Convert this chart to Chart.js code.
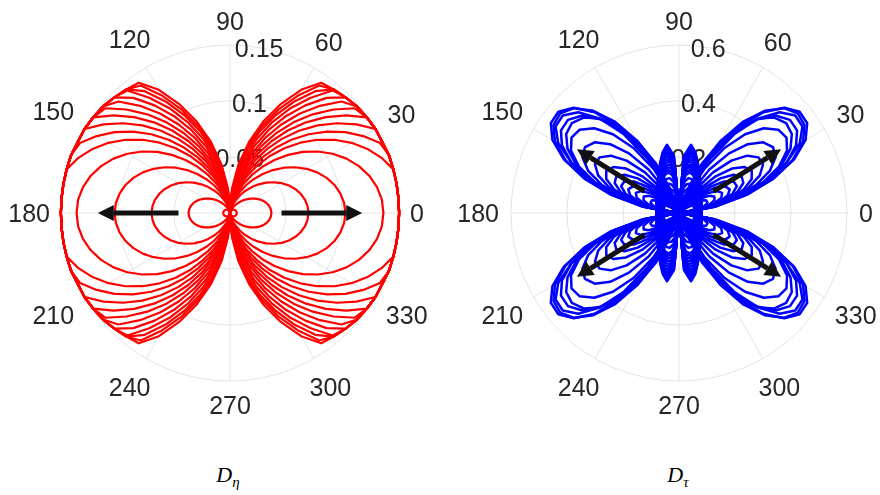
<!DOCTYPE html>
<html>
<head>
<meta charset="utf-8">
<script src="https://cdn.jsdelivr.net/npm/chart.js@4.4.1/dist/chart.umd.min.js"></script>
<style>
  body { margin: 0; background: #fff; }
  #wrap { position: relative; width: 880px; height: 495px; overflow: hidden; }
  canvas { position: absolute; top: 0; }
  #polarEta { left: 0; }
  #polarTau { left: 440px; }
  .caption { position: absolute; top: 462px; transform: translateX(-50%);
             font-family: "Liberation Serif", serif; font-style: italic; font-size: 22px; color: #000; }
  .caption sub { font-size: 15px; }
</style>
</head>
<body>
<div id="wrap">
  <canvas id="polarEta" width="440" height="440"></canvas>
  <canvas id="polarTau" width="440" height="440"></canvas>
  <div class="caption" style="left:228px">D<sub>η</sub></div>
  <div class="caption" style="left:678px">D<sub>τ</sub></div>
</div>
<script>
// radius samples every 5 degrees over the first quadrant (0..90);
// both plots are symmetric about the 0-180 and 90-270 axes
const quarterAngles = [0, 5, 10, 15, 20, 25, 30, 35, 40, 45, 50, 55, 60, 65, 70, 75, 80, 85, 90];
const angleTicks = [0, 30, 60, 90, 120, 150, 180, 210, 240, 270, 300, 330];

// left plot, D_eta
const etaRings = [0.05, 0.1, 0.15];
const etaCurves = [
    [0.006, 0.006, 0.0059, 0.0058, 0.0056, 0.0054, 0.0052, 0.0049, 0.0046, 0.0042, 0.0039, 0.0034, 0.003, 0.0025, 0.0021, 0.0016, 0.001, 0.0005, 0],
    [0.037, 0.0366, 0.0356, 0.0339, 0.0317, 0.0289, 0.0258, 0.0225, 0.019, 0.0156, 0.0123, 0.0092, 0.0065, 0.0043, 0.0025, 0.0013, 0.0005, 0.0001, 0],
    [0.07, 0.0695, 0.068, 0.0655, 0.0622, 0.0581, 0.0533, 0.0479, 0.0422, 0.0362, 0.0302, 0.0243, 0.0188, 0.0136, 0.0091, 0.0054, 0.0025, 0.0007, 0],
    [0.103, 0.1023, 0.1001, 0.0966, 0.0918, 0.0859, 0.0789, 0.0712, 0.0629, 0.0542, 0.0455, 0.0368, 0.0286, 0.0209, 0.0142, 0.0084, 0.004, 0.0011, 0],
    [0.137, 0.1361, 0.1333, 0.1287, 0.1225, 0.1148, 0.1058, 0.0957, 0.0848, 0.0734, 0.0618, 0.0504, 0.0393, 0.0291, 0.0199, 0.012, 0.0059, 0.0017, 0],
    [0.151, 0.151, 0.151, 0.1508, 0.144, 0.1354, 0.1253, 0.114, 0.1017, 0.0888, 0.0755, 0.0622, 0.0492, 0.037, 0.0258, 0.0161, 0.0082, 0.0025, 0],
    [0.151, 0.151, 0.151, 0.151, 0.151, 0.1478, 0.1374, 0.1258, 0.113, 0.0994, 0.0853, 0.0711, 0.0571, 0.0436, 0.0311, 0.0199, 0.0105, 0.0035, 0],
    [0.151, 0.151, 0.151, 0.151, 0.151, 0.15, 0.1499, 0.1379, 0.1247, 0.1106, 0.0958, 0.0808, 0.0658, 0.0511, 0.0372, 0.0245, 0.0134, 0.0048, 0],
    [0.151, 0.151, 0.151, 0.151, 0.151, 0.15, 0.15, 0.149, 0.1356, 0.121, 0.1057, 0.0899, 0.074, 0.0583, 0.0431, 0.029, 0.0165, 0.0062, 0],
    [0.151, 0.151, 0.151, 0.151, 0.151, 0.15, 0.15, 0.149, 0.1455, 0.1307, 0.115, 0.0988, 0.0822, 0.0656, 0.0494, 0.034, 0.0199, 0.0079, 0],
    [0.151, 0.151, 0.151, 0.151, 0.151, 0.15, 0.15, 0.149, 0.148, 0.1408, 0.1249, 0.1082, 0.091, 0.0737, 0.0564, 0.0397, 0.024, 0.0101, 0],
    [0.151, 0.151, 0.151, 0.151, 0.151, 0.15, 0.15, 0.149, 0.148, 0.146, 0.1342, 0.1173, 0.0998, 0.0818, 0.0637, 0.0459, 0.0286, 0.0127, 0],
    [0.151, 0.151, 0.151, 0.151, 0.151, 0.15, 0.15, 0.149, 0.148, 0.146, 0.1427, 0.1257, 0.108, 0.0896, 0.0708, 0.052, 0.0334, 0.0155, 0],
    [0.151, 0.151, 0.151, 0.151, 0.151, 0.15, 0.15, 0.149, 0.148, 0.146, 0.144, 0.1328, 0.115, 0.0963, 0.0772, 0.0576, 0.0378, 0.0184, 0],
    [0.151, 0.151, 0.151, 0.151, 0.151, 0.15, 0.15, 0.149, 0.148, 0.146, 0.144, 0.139, 0.1208, 0.1018, 0.082, 0.0617, 0.0411, 0.0203, 0],
    [0.151, 0.151, 0.151, 0.151, 0.151, 0.15, 0.15, 0.149, 0.148, 0.146, 0.144, 0.142, 0.127, 0.1073, 0.0869, 0.0657, 0.0441, 0.0221, 0]
];
const etaArrowAngles = [0, 180];
const etaArrowFrom = [0.046, 0.046];
const etaArrowTo = [0.118, 0.118];

// right plot, D_tau: tall loops near the vertical axis, then the diagonal lobes
const tauRings = [0.2, 0.4, 0.6];
const tauColumns = [
    [0.08, 0.0803, 0.0812, 0.0827, 0.0848, 0.0878, 0.0916, 0.0964, 0.1025, 0.1102, 0.1199, 0.1323, 0.1481, 0.1686, 0.1947, 0.2253, 0.2476, 0.2046, 0],
    [0.08, 0.0803, 0.0812, 0.0826, 0.0848, 0.0877, 0.0915, 0.0963, 0.1023, 0.1099, 0.1195, 0.1317, 0.1472, 0.167, 0.1919, 0.2202, 0.2382, 0.1919, 0],
    [0.08, 0.0803, 0.0812, 0.0826, 0.0848, 0.0877, 0.0914, 0.0962, 0.1022, 0.1097, 0.1191, 0.131, 0.1461, 0.1653, 0.1888, 0.2146, 0.2282, 0.1791, 0],
    [0.08, 0.0803, 0.0811, 0.0826, 0.0847, 0.0876, 0.0913, 0.096, 0.1019, 0.1094, 0.1186, 0.1303, 0.1449, 0.1633, 0.1854, 0.2085, 0.2178, 0.1663, 0],
    [0.08, 0.0803, 0.0811, 0.0826, 0.0847, 0.0875, 0.0912, 0.0959, 0.1017, 0.109, 0.1181, 0.1294, 0.1436, 0.1611, 0.1816, 0.2019, 0.2068, 0.1536, 0],
    [0.079, 0.0793, 0.0801, 0.0815, 0.0836, 0.0864, 0.09, 0.0945, 0.1002, 0.1073, 0.1161, 0.1271, 0.1407, 0.1573, 0.1763, 0.1942, 0.1959, 0.1426, 0],
    [0.078, 0.0783, 0.0791, 0.0805, 0.0825, 0.0852, 0.0888, 0.0932, 0.0987, 0.1056, 0.1141, 0.1247, 0.1377, 0.1533, 0.1708, 0.1862, 0.1848, 0.1317, 0],
    [0.077, 0.0773, 0.0781, 0.0794, 0.0814, 0.0841, 0.0875, 0.0918, 0.0972, 0.1039, 0.1121, 0.1222, 0.1345, 0.149, 0.1649, 0.1777, 0.1733, 0.1207, 0],
    [0.076, 0.0763, 0.077, 0.0784, 0.0803, 0.0829, 0.0862, 0.0904, 0.0956, 0.1021, 0.11, 0.1196, 0.1311, 0.1446, 0.1587, 0.1689, 0.1617, 0.1101, 0],
    [0.075, 0.0753, 0.076, 0.0773, 0.0792, 0.0817, 0.0849, 0.089, 0.094, 0.1002, 0.1077, 0.1168, 0.1276, 0.1398, 0.1521, 0.1596, 0.1497, 0.0996, 0],
    [0.074, 0.0743, 0.075, 0.0763, 0.0781, 0.0805, 0.0836, 0.0876, 0.0924, 0.0983, 0.1054, 0.1139, 0.1238, 0.1348, 0.145, 0.1499, 0.1376, 0.0894, 0],
    [0.072, 0.0723, 0.0729, 0.0741, 0.0758, 0.078, 0.0809, 0.0845, 0.0888, 0.094, 0.1002, 0.1074, 0.1153, 0.1233, 0.1295, 0.1291, 0.113, 0.0699, 0],
    [0.068, 0.0683, 0.0688, 0.0699, 0.0714, 0.0734, 0.0759, 0.079, 0.0827, 0.087, 0.0921, 0.0977, 0.1034, 0.1085, 0.1109, 0.1067, 0.0895, 0.0531, 0],
    [0.062, 0.0622, 0.0627, 0.0636, 0.0648, 0.0665, 0.0686, 0.0711, 0.074, 0.0774, 0.0811, 0.085, 0.0886, 0.091, 0.0904, 0.084, 0.0676, 0.0387, 0],
    [0.054, 0.0542, 0.0545, 0.0552, 0.0562, 0.0574, 0.059, 0.0608, 0.0629, 0.0651, 0.0675, 0.0696, 0.0712, 0.0713, 0.0686, 0.0613, 0.0475, 0.0263, 0]
];
const tauLobes = [
    [0, 0.0196, 0.0491, 0.0704, 0.0797, 0.0757, 0.0589, 0.0322, 0, 0, 0, 0, 0, 0, 0, 0, 0, 0, 0],
    [0, 0.0257, 0.0647, 0.0938, 0.1087, 0.107, 0.089, 0.0575, 0.0172, 0, 0, 0, 0, 0, 0, 0, 0, 0, 0],
    [0, 0.0214, 0.0715, 0.1114, 0.135, 0.1391, 0.1231, 0.0891, 0.0423, 0, 0, 0, 0, 0, 0, 0, 0, 0, 0],
    [0, 0.0248, 0.0832, 0.1307, 0.1609, 0.1699, 0.1565, 0.1223, 0.0721, 0.0125, 0, 0, 0, 0, 0, 0, 0, 0, 0],
    [0, 0.0278, 0.0939, 0.1486, 0.1854, 0.1999, 0.1902, 0.1576, 0.106, 0.0416, 0, 0, 0, 0, 0, 0, 0, 0, 0],
    [0, 0.0157, 0.0917, 0.1569, 0.2043, 0.2279, 0.2252, 0.1965, 0.1451, 0.0771, 0, 0, 0, 0, 0, 0, 0, 0, 0],
    [0, 0.0167, 0.0974, 0.1685, 0.2224, 0.2535, 0.2588, 0.2377, 0.1926, 0.1276, 0.0496, 0, 0, 0, 0, 0, 0, 0, 0],
    [0, 0.0183, 0.1065, 0.1851, 0.2469, 0.2865, 0.3, 0.2865, 0.2469, 0.1851, 0.1065, 0.0183, 0, 0, 0, 0, 0, 0, 0],
    [0, 0, 0.0987, 0.1892, 0.2647, 0.3185, 0.3464, 0.3464, 0.3185, 0.2647, 0.1892, 0.0987, 0, 0, 0, 0, 0, 0, 0],
    [0, 0, 0.108, 0.2081, 0.2936, 0.3586, 0.3983, 0.4099, 0.3925, 0.3477, 0.2781, 0.1893, 0.0866, 0, 0, 0, 0, 0, 0],
    [0, 0, 0.116, 0.2249, 0.3198, 0.3947, 0.4455, 0.4687, 0.4629, 0.4283, 0.3673, 0.2835, 0.1829, 0.0702, 0, 0, 0, 0, 0],
    [0, 0.0225, 0.1328, 0.237, 0.3288, 0.4045, 0.4599, 0.4919, 0.4995, 0.482, 0.4403, 0.3766, 0.2939, 0.1963, 0.0894, 0, 0, 0, 0],
    [0, 0, 0.1226, 0.2384, 0.3405, 0.4233, 0.4828, 0.5147, 0.5176, 0.4914, 0.4375, 0.3587, 0.26, 0.1467, 0.0246, 0, 0, 0, 0],
    [0, 0, 0.057, 0.1953, 0.3204, 0.4236, 0.4979, 0.5383, 0.542, 0.5088, 0.4409, 0.343, 0.2217, 0.0853, 0, 0, 0, 0, 0],
    [0, 0, 0.1288, 0.251, 0.359, 0.4475, 0.5116, 0.5474, 0.5536, 0.5294, 0.4763, 0.3972, 0.2958, 0.1787, 0.0522, 0, 0, 0, 0],
    [0, 0, 0.1102, 0.2415, 0.3584, 0.4536, 0.522, 0.5589, 0.5623, 0.5318, 0.4697, 0.3796, 0.2663, 0.1376, 0, 0, 0, 0, 0]
];
const tauArrowAngles = [32, 148, 212, 328];
const tauArrowFrom = [0.145, 0.145, 0.145, 0.145];
const tauArrowTo = [0.43, 0.43, 0.43, 0.43];

const step = quarterAngles[1] - quarterAngles[0];
// the radar scale runs clockwise from the top, so label i is at 90 - i*step degrees
const directions = [];
for (let i = 0; i < 360 / step; i++) {
    directions.push((450 - i * step) % 360);
}

function fullTurn(quarter) {
    return directions.map(a => {
        let q;
        if (a <= 90) q = a;
        else if (a <= 180) q = 180 - a;
        else if (a <= 270) q = a - 180;
        else q = 360 - a;
        return quarter[quarterAngles.indexOf(q)];
    });
}

function polarDecor(rings, arrowAngles, arrowFrom, arrowTo) {
    return {
        id: 'polarDecor',
        beforeDatasetsDraw(chart) {
            const s = chart.scales.r;
            const ctx = chart.ctx;
            ctx.save();
            ctx.font = '25px "Liberation Sans", Arial, sans-serif';
            ctx.fillStyle = '#262626';
            ctx.textAlign = 'center';
            ctx.textBaseline = 'alphabetic';
            const lift = 9; // half the digit height, so text is centred on its point
            // ring values sit along the 80 degree direction
            const t = 80 * Math.PI / 180;
            rings.forEach(v => {
                const d = s.getDistanceFromCenterForValue(v);
                ctx.fillText(String(v), s.xCenter + d * Math.cos(t), s.yCenter - d * Math.sin(t) + lift);
            });
            angleTicks.forEach(a => {
                const r = a * Math.PI / 180;
                const txt = String(a);
                const w = ctx.measureText(txt).width;
                const d = s.drawingArea + 12 + w / 2 * Math.abs(Math.cos(r)) + 12 * Math.abs(Math.sin(r));
                ctx.fillText(txt, s.xCenter + d * Math.cos(r), s.yCenter - d * Math.sin(r) + lift);
            });
            ctx.restore();
        },
        afterDatasetsDraw(chart) {
            const s = chart.scales.r;
            const ctx = chart.ctx;
            ctx.save();
            ctx.strokeStyle = '#111';
            ctx.fillStyle = '#111';
            ctx.lineWidth = 5;
            arrowAngles.forEach((a, i) => {
                const r = a * Math.PI / 180;
                const c = Math.cos(r), sn = -Math.sin(r);
                const d0 = s.getDistanceFromCenterForValue(arrowFrom[i]);
                const d1 = s.getDistanceFromCenterForValue(arrowTo[i]);
                const head = 16, half = 8;
                const xb = s.xCenter + (d1 - head) * c, yb = s.yCenter + (d1 - head) * sn;
                ctx.beginPath();
                ctx.moveTo(s.xCenter + d0 * c, s.yCenter + d0 * sn);
                ctx.lineTo(xb, yb);
                ctx.stroke();
                ctx.beginPath();
                ctx.moveTo(s.xCenter + d1 * c, s.yCenter + d1 * sn);
                ctx.lineTo(xb - half * sn, yb + half * c);
                ctx.lineTo(xb + half * sn, yb - half * c);
                ctx.closePath();
                ctx.fill();
            });
            ctx.restore();
        }
    };
}

function polarChart(id, curves, color, lineWidth, rings, padding, decor) {
    return new Chart(document.getElementById(id), {
        type: 'radar',
        data: {
            labels: directions.map(String),
            datasets: curves.map(q => ({
                data: fullTurn(q),
                borderColor: color,
                backgroundColor: 'transparent',
                borderWidth: lineWidth,
                borderJoinStyle: 'round',
                pointRadius: 0,
                fill: false,
                tension: 0,
                clip: false
            }))
        },
        options: {
            responsive: false,
            animation: false,
            devicePixelRatio: 1,
            events: [],
            layout: { padding: padding },
            plugins: { legend: { display: false }, tooltip: { enabled: false } },
            scales: {
                r: {
                    min: 0,
                    max: rings[rings.length - 1],
                    ticks: { display: false, stepSize: rings[0] },
                    pointLabels: { display: false },
                    grid: { circular: true, color: '#e4e4e4', lineWidth: 1 },
                    angleLines: {
                        color: '#e4e4e4',
                        lineWidth: ctx => (directions[ctx.index] % 30 === 0 ? 1 : 0)
                    }
                }
            }
        },
        plugins: [decor]
    });
}

polarChart('polarEta', etaCurves, '#ff0000', 2.2, etaRings,
    { left: 62, right: 42, top: 45, bottom: 59 },
    polarDecor(etaRings, etaArrowAngles, etaArrowFrom, etaArrowTo));

polarChart('polarTau', tauColumns.concat(tauLobes), '#0000ff', 2.5, tauRings,
    { left: 71, right: 33, top: 45, bottom: 59 },
    polarDecor(tauRings, tauArrowAngles, tauArrowFrom, tauArrowTo));
</script>
</body>
</html>
